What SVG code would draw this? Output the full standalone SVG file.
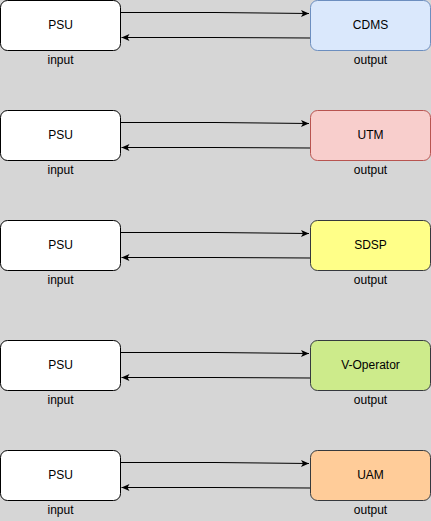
<svg xmlns="http://www.w3.org/2000/svg" width="431" height="521" viewBox="0 0 431 521">
  <defs>
    <marker id="arrow" markerWidth="10" markerHeight="10" refX="9" refY="5" orient="auto" markerUnits="userSpaceOnUse">
      <path d="M1,1.5 L9,5 L1,8.5 L3,5 Z" fill="#000"/>
    </marker>
  </defs>
  <style>
    .box { stroke-width: 1; }
    .psu { fill: #ffffff; stroke: #000000; }
    .lbl { font-family: "Liberation Sans", Arial, sans-serif; font-size: 12px; fill: #000; text-anchor: middle; dominant-baseline: central; }
    .edge { fill: none; stroke: #000; stroke-width: 1; marker-end: url(#arrow); }
  </style>
  <rect x="0" y="0" width="431" height="521" fill="#d6d6d6"/>

  <g id="connectors">
    <path class="edge" d="M120.5,12.5 L215,12.5 L309,13.5"/>
    <path class="edge" d="M310,38 L215,37.5 L121.5,37.5"/>
    <path class="edge" d="M120.5,122.5 L215,122.5 L309,123.5"/>
    <path class="edge" d="M310,148 L215,147.5 L121.5,147.5"/>
    <path class="edge" d="M120.5,232.5 L215,232.5 L309,233.5"/>
    <path class="edge" d="M310,258 L215,257.5 L121.5,257.5"/>
    <path class="edge" d="M120.5,352.5 L215,352.5 L309,353.5"/>
    <path class="edge" d="M310,378 L215,377.5 L121.5,377.5"/>
    <path class="edge" d="M120.5,462.5 L215,462.5 L309,463.5"/>
    <path class="edge" d="M310,488 L215,487.5 L121.5,487.5"/>
  </g>

  <!-- row 1 -->
  <g id="psu1">
    <rect class="box psu" x="0.5" y="0.5" width="120" height="50" rx="7"/>
    <text class="lbl" x="60.5" y="24.5">PSU</text>
    <text class="lbl" x="60.5" y="59.5">input</text>
  </g>
  <g id="cdms">
    <rect class="box" x="310.5" y="0.5" width="120" height="50" rx="7" fill="#dae8fc" stroke="#6c8ebf"/>
    <text class="lbl" x="370.5" y="24.5">CDMS</text>
    <text class="lbl" x="370.5" y="59.5">output</text>
  </g>

  <!-- row 2 -->
  <g id="psu2">
    <rect class="box psu" x="0.5" y="110.5" width="120" height="50" rx="7"/>
    <text class="lbl" x="60.5" y="134.5">PSU</text>
    <text class="lbl" x="60.5" y="169.5">input</text>
  </g>
  <g id="utm">
    <rect class="box" x="310.5" y="110.5" width="120" height="50" rx="7" fill="#f8cecc" stroke="#b85450"/>
    <text class="lbl" x="370.5" y="134.5">UTM</text>
    <text class="lbl" x="370.5" y="169.5">output</text>
  </g>

  <!-- row 3 -->
  <g id="psu3">
    <rect class="box psu" x="0.5" y="220.5" width="120" height="50" rx="7"/>
    <text class="lbl" x="60.5" y="244.5">PSU</text>
    <text class="lbl" x="60.5" y="279.5">input</text>
  </g>
  <g id="sdsp">
    <rect class="box" x="310.5" y="220.5" width="120" height="50" rx="7" fill="#ffff88" stroke="#36393d"/>
    <text class="lbl" x="370.5" y="244.5">SDSP</text>
    <text class="lbl" x="370.5" y="279.5">output</text>
  </g>

  <!-- row 4 -->
  <g id="psu4">
    <rect class="box psu" x="0.5" y="340.5" width="120" height="50" rx="7"/>
    <text class="lbl" x="60.5" y="364.5">PSU</text>
    <text class="lbl" x="60.5" y="399.5">input</text>
  </g>
  <g id="voperator">
    <rect class="box" x="310.5" y="340.5" width="120" height="50" rx="7" fill="#cdeb8b" stroke="#36393d"/>
    <text class="lbl" x="370.5" y="364.5">V-Operator</text>
    <text class="lbl" x="370.5" y="399.5">output</text>
  </g>

  <!-- row 5 -->
  <g id="psu5">
    <rect class="box psu" x="0.5" y="450.5" width="120" height="50" rx="7"/>
    <text class="lbl" x="60.5" y="474.5">PSU</text>
    <text class="lbl" x="60.5" y="509.5">input</text>
  </g>
  <g id="uam">
    <rect class="box" x="310.5" y="450.5" width="120" height="50" rx="7" fill="#ffcc99" stroke="#36393d"/>
    <text class="lbl" x="370.5" y="474.5">UAM</text>
    <text class="lbl" x="370.5" y="509.5">output</text>
  </g>
</svg>
